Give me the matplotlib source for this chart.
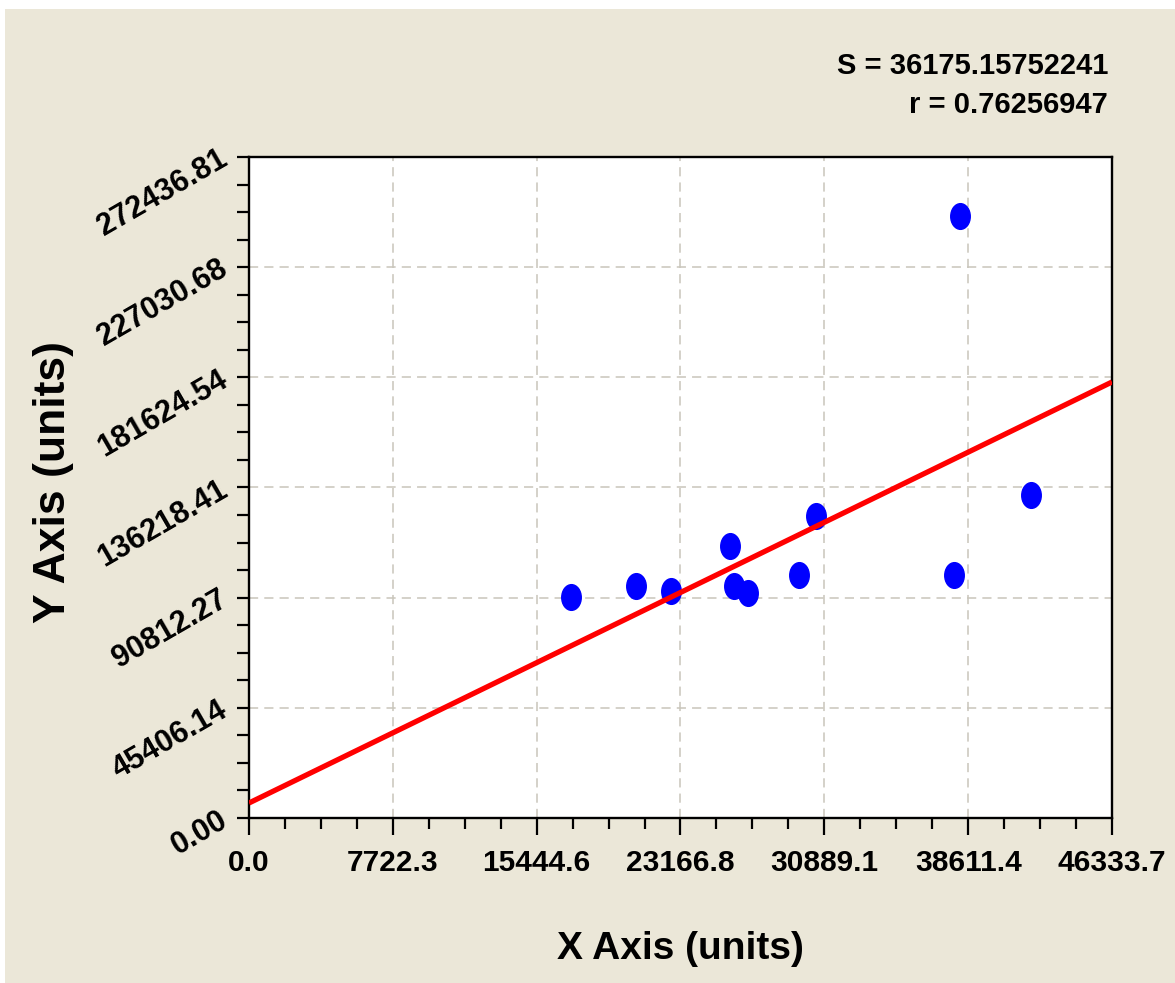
import matplotlib
matplotlib.use('Agg')
import matplotlib.pyplot as plt
from matplotlib.path import Path
from matplotlib.patches import Rectangle
from matplotlib.ticker import AutoMinorLocator
import numpy as np

# data
x_vals = [17290, 20780, 22660, 25830, 26040, 26800, 29530, 30440, 37850, 38170, 41990]
y_vals = [91100, 95600, 93600, 112100, 95600, 92700, 100200, 124500, 100200, 248100, 133100]
fit_intercept = 6182.0
fit_slope = 3.745

x_ticks = [0.0, 7722.3, 15444.6, 23166.8, 30889.1, 38611.4, 46333.7]
x_labels = ['0.0', '7722.3', '15444.6', '23166.8', '30889.1', '38611.4', '46333.7']
y_ticks = [0.00, 45406.14, 90812.27, 136218.41, 181624.54, 227030.68, 272436.81]
y_labels = ['0.00', '45406.14', '90812.27', '136218.41', '181624.54', '227030.68', '272436.81']

stats_lines = ['S = 36175.15752241', 'r = 0.76256947']

plt.rcParams['font.family'] = ['Liberation Sans', 'DejaVu Sans']
plt.rcParams['font.weight'] = 'bold'

fig = plt.figure(figsize=(11.75, 9.83), dpi=100)
fig.patch.set_facecolor('white')
# beige panel, leaves a thin white strip at top and left
fig.patches.append(Rectangle((5 / 1175, 0), 1, 1 - 9 / 983, transform=fig.transFigure,
                             facecolor='#EBE7D8', edgecolor='none', zorder=-5))

ax = fig.add_axes([249 / 1175, 165 / 983, 863 / 1175, 661 / 983])
ax.set_facecolor('white')

# ellipse marker, a bit taller than wide
circ = Path.unit_circle()
ell = Path(circ.vertices * np.array([0.76, 1.0]), circ.codes)

ax.plot(x_vals, y_vals, linestyle='none', marker=ell, markersize=18.5,
        color='#0000FF', zorder=3)

xs = np.array([x_ticks[0], x_ticks[-1]])
ax.plot(xs, fit_intercept + fit_slope * xs, color='#FF0000', lw=3.8, zorder=4,
        solid_capstyle='butt')

ax.set_xlim(x_ticks[0], x_ticks[-1])
ax.set_ylim(y_ticks[0], y_ticks[-1])
ax.set_xticks(x_ticks)
ax.set_yticks(y_ticks)
ax.xaxis.set_minor_locator(AutoMinorLocator(4))
ax.yaxis.set_minor_locator(AutoMinorLocator(4))

ax.grid(True, which='major', color='#C9C5BB', linestyle=(0, (6, 4)), linewidth=1.1)
ax.set_axisbelow(True)

for s in ax.spines.values():
    s.set_linewidth(1.7)
    s.set_color('black')

ax.tick_params(axis='x', which='major', direction='out', length=12, width=1.6, pad=10)
ax.tick_params(axis='x', which='minor', direction='out', length=8, width=1.6)
ax.tick_params(axis='y', which='both', direction='out', length=9, width=1.6, pad=8)

ax.set_xticklabels(x_labels, fontsize=21.5, fontweight='bold')
ax.set_yticklabels(y_labels, fontsize=22, fontweight='bold',
                   rotation=30, ha='right', va='center', rotation_mode='anchor')

fig.text(680 / 1175, 1 - 959 / 983, 'X Axis (units)', ha='center', va='baseline',
         fontsize=28, fontweight='bold')
fig.text(54 / 1175, 1 - 482 / 983, 'Y Axis (units)', ha='center', va='center',
         rotation=90, fontsize=32, fontweight='bold')

fig.text(1108 / 1175, 1 - 74 / 983, stats_lines[0], ha='right', va='baseline',
         fontsize=21, fontweight='bold')
fig.text(1108 / 1175, 1 - 113 / 983, stats_lines[1], ha='right', va='baseline',
         fontsize=21, fontweight='bold')

fig.savefig('out.png', dpi=100, facecolor=fig.get_facecolor())
